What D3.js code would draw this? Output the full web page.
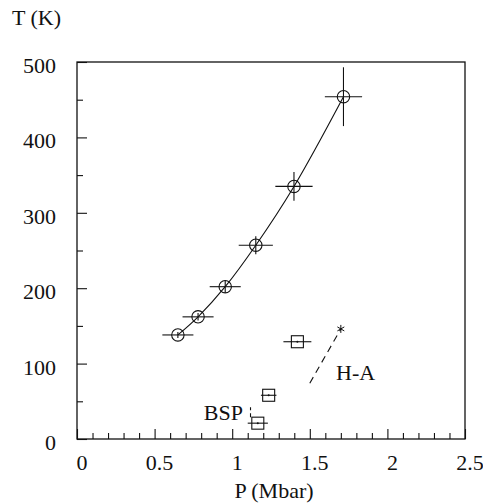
<!DOCTYPE html>
<html><head><meta charset="utf-8">
<script src="https://cdn.jsdelivr.net/npm/d3@7"></script>
<style>body{margin:0;background:#fff}svg{display:block}</style>
</head><body><svg id="c" width="483" height="503"></svg>
<script>
// Data
const circP = [0.65, 0.78, 0.955, 1.152, 1.398, 1.717];
const circT = [138, 162, 202, 257, 335, 454];
const circPerr = [0.10, 0.10, 0.10, 0.11, 0.12, 0.12];
const circTerr = [4, 5, 8, 12, 19, 39];
const sqP = [1.42, 1.235, 1.165];
const sqT = [129, 58, 21];
const sqPerr = [0.09, 0.05, 0.065];
const haP = [1.50, 1.70];
const haT = [74, 146];
const bspP = [1.118, 1.118];
const bspT = [29, 42];
const xTickLabels = ["0", "0.5", "1", "1.5", "2", "2.5"];
const yTickLabels = ["0", "100", "200", "300", "400", "500"];

const svg = d3.select("#c");
const L = 77, R = 465, T = 62, B = 439;
const x = d3.scaleLinear().domain([0, 2.5]).range([L, R]);
const y = d3.scaleLinear().domain([0, 500]).range([B, T]);
const ink = "#111";

function addText(px, py, str, anchor) {
  return svg.append("text").attr("x", px).attr("y", py)
    .attr("text-anchor", anchor || "start")
    .style("font-family", "'Liberation Serif'")
    .attr("font-size", 22).attr("fill", ink).text(str);
}

// frame
svg.append("rect").attr("x", L).attr("y", T).attr("width", R - L).attr("height", B - T)
  .attr("fill", "none").attr("stroke", ink).attr("stroke-width", 1.3);

// x ticks
const minorX = d3.range(0, 26).map(i => i / 10).filter(v => Math.round(v * 10) % 5 !== 0);
const majorX = xTickLabels.map(Number);
const gx = svg.append("g").attr("transform", `translate(0,${B})`);
gx.call(d3.axisBottom(x).tickValues(minorX).tickSize(-6).tickFormat(""));
const gx2 = svg.append("g").attr("transform", `translate(0,${B})`);
gx2.call(d3.axisBottom(x).tickValues(majorX).tickSize(-10).tickFormat(""));
[gx, gx2].forEach(g => { g.select(".domain").remove(); g.selectAll("line").attr("stroke", ink).attr("stroke-width", 1.1); });
majorX.forEach((v, i) => addText(x(v) + 5, 470, xTickLabels[i], "middle"));

// y ticks
const minorY = [50, 150, 250, 350, 450];
const majorY = yTickLabels.map(Number);
const gy = svg.append("g").attr("transform", `translate(${L},0)`);
gy.call(d3.axisLeft(y).tickValues(minorY).tickSize(-6).tickFormat(""));
const gy2 = svg.append("g").attr("transform", `translate(${L},0)`);
gy2.call(d3.axisLeft(y).tickValues(majorY).tickSize(-10).tickFormat(""));
[gy, gy2].forEach(g => { g.select(".domain").remove(); g.selectAll("line").attr("stroke", ink).attr("stroke-width", 1.1); });
majorY.forEach((v, i) => addText(56, y(v) + 11, yTickLabels[i], "end"));

// axis titles
addText(12, 25, "T (K)");
addText((x(0) + x(2.5)) / 2 + 3, 498, "P (Mbar)", "middle");

// curve through circles
const pts = circP.map((p, i) => [x(p), y(circT[i])]);
svg.append("path").attr("d", d3.line().curve(d3.curveCatmullRom)(pts))
  .attr("fill", "none").attr("stroke", ink).attr("stroke-width", 1.1);

// circle points with error bars
circP.forEach((p, i) => {
  const cx = x(p), cy = y(circT[i]);
  svg.append("line").attr("x1", x(p - circPerr[i])).attr("x2", x(p + circPerr[i])).attr("y1", cy).attr("y2", cy).attr("stroke", ink).attr("stroke-width", 1.1);
  svg.append("line").attr("x1", cx).attr("x2", cx).attr("y1", y(circT[i] - circTerr[i])).attr("y2", y(circT[i] + circTerr[i])).attr("stroke", ink).attr("stroke-width", 1.1);
  svg.append("circle").attr("cx", cx).attr("cy", cy).attr("r", 6.2).attr("fill", "none").attr("stroke", ink).attr("stroke-width", 1.1);
});

// squares (BSP)
sqP.forEach((p, i) => {
  const cx = x(p), cy = y(sqT[i]);
  svg.append("line").attr("x1", x(p - sqPerr[i])).attr("x2", x(p + sqPerr[i])).attr("y1", cy).attr("y2", cy).attr("stroke", ink).attr("stroke-width", 1.1);
  svg.append("rect").attr("x", cx - 6).attr("y", cy - 6).attr("width", 12).attr("height", 12).attr("fill", "none").attr("stroke", ink).attr("stroke-width", 1.1);
  svg.append("circle").attr("cx", cx).attr("cy", cy).attr("r", 1).attr("fill", ink);
});

// H-A dashed line with asterisk
svg.append("line").attr("x1", x(haP[0])).attr("y1", y(haT[0])).attr("x2", x(haP[1])).attr("y2", y(haT[1]))
  .attr("stroke", ink).attr("stroke-width", 1.1).attr("stroke-dasharray", "7,5");
const ax = x(haP[1]), ay = y(haT[1]);
[0, 60, 120].forEach(a => {
  const r = 4, rad = a * Math.PI / 180;
  svg.append("line").attr("x1", ax - r * Math.sin(rad)).attr("y1", ay - r * Math.cos(rad))
    .attr("x2", ax + r * Math.sin(rad)).attr("y2", ay + r * Math.cos(rad)).attr("stroke", ink).attr("stroke-width", 1);
});
addText(336, 380, "H-A");

// BSP dashed mark
svg.append("line").attr("x1", x(bspP[0])).attr("y1", y(bspT[0])).attr("x2", x(bspP[1])).attr("y2", y(bspT[1]))
  .attr("stroke", ink).attr("stroke-width", 1.1).attr("stroke-dasharray", "4,3");
addText(243, 420, "BSP", "end");
</script></body></html>
